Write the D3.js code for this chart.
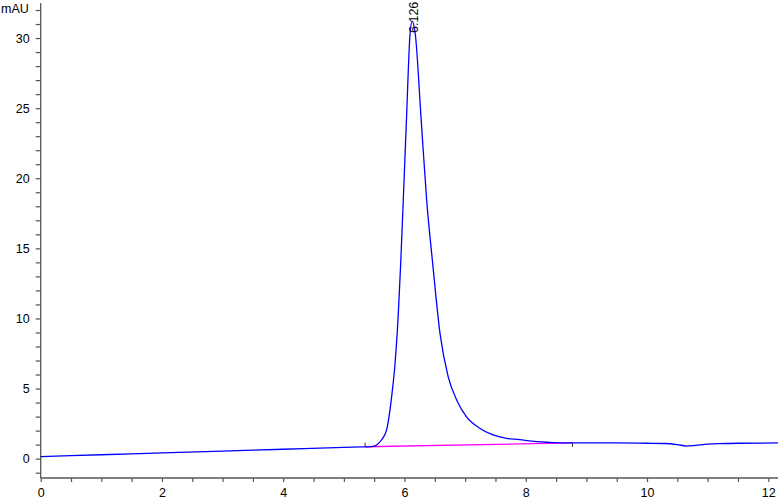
<!DOCTYPE html>
<html><head><meta charset="utf-8">
<script src="https://cdn.jsdelivr.net/npm/d3@7"></script>
<style>
html,body{margin:0;padding:0;background:#fff;}
svg{display:block;font-family:"Liberation Sans",Arial,sans-serif;}
</style></head>
<body>
<svg id="c" width="778" height="499"></svg>
<script>
const time = [0, 1, 2, 3, 4, 5, 5.3, 5.46, 5.54, 5.62, 5.705, 5.755, 5.79, 5.84, 5.895, 5.935, 5.98, 6.035, 6.09, 6.126, 6.18, 6.27, 6.365, 6.47, 6.585, 6.72, 6.86, 7.02, 7.24, 7.46, 7.68, 7.90, 8.1, 8.45, 8.8, 9.5, 10.0, 10.3, 10.5, 10.65, 10.8, 11.0, 11.2, 11.5, 12.16];
const mAU = [0.15, 0.28, 0.41, 0.54, 0.67, 0.8, 0.84, 0.86, 0.98, 1.33, 2.05, 3.3, 4.5, 6.57, 10.1, 13.7, 18.47, 24.5, 30.2, 31.2, 30.2, 24.5, 18.47, 13.7, 8.95, 5.85, 4.19, 3.0, 2.17, 1.69, 1.45, 1.36, 1.25, 1.15, 1.12, 1.12, 1.1, 1.08, 1.0, 0.9, 0.95, 1.03, 1.07, 1.1, 1.12];
const baselineT = [5.35, 8.77];
const baselineY = [0.85, 1.12];
const peakLabels = ["6.126"];
const peakT = [6.126];
const yTicks = d3.range(-1, 33, 1);
const xTicks = d3.range(0, 12.01, 0.5);

const svg = d3.select("#c");
const x = d3.scaleLinear().domain([0, 12.16]).range([40.7, 778]);
const y = d3.scaleLinear().domain([-1.38, 32.5]).range([478, 3]);

// axes
const yAxis = d3.axisLeft(y).tickValues(yTicks).tickSize(5).tickPadding(6)
  .tickFormat(d => d % 5 === 0 ? d : "");
const gy = svg.append("g").attr("transform", `translate(${x(0)},0)`).call(yAxis);
const xAxis = d3.axisBottom(x).tickValues(xTicks).tickSize(4).tickPadding(6)
  .tickFormat(d => (Number.isInteger(d) && d % 2 === 0) ? d : "");
const gx = svg.append("g").attr("transform", `translate(0,${y(-1.38)})`).call(xAxis);
[gx, gy].forEach(g => {
  g.select(".domain").attr("stroke", "#555").attr("stroke-width", 1.3);
  g.selectAll(".tick line").attr("stroke", "#555").attr("stroke-width", 1.2);
  g.selectAll(".tick text").attr("fill", "#000").style("font-size", "12.5px")
    .style("font-family", '"Liberation Sans",Arial,sans-serif');
});
gx.select(".domain").attr("d", `M${x(0)},0H778`);
gy.select(".domain").attr("d", `M0,${y(-1.38)}V3`);

svg.append("text").attr("x", 1).attr("y", 13).text("mAU")
  .style("font-size", "12.5px").attr("fill", "#000");

// baseline (magenta)
svg.append("line")
  .attr("x1", x(baselineT[0])).attr("y1", y(baselineY[0]))
  .attr("x2", x(baselineT[1])).attr("y2", y(baselineY[1]))
  .attr("stroke", "#ff00ff").attr("stroke-width", 1.3);

// signal
const line = d3.line().x((d, i) => x(time[i])).y((d, i) => y(mAU[i])).curve(d3.curveMonotoneX);
svg.append("path").datum(mAU).attr("d", line)
  .attr("fill", "none").attr("stroke", "#0000ff").attr("stroke-width", 1.3);

// baseline markers
svg.append("line").attr("x1", x(baselineT[0])).attr("x2", x(baselineT[0]))
  .attr("y1", y(baselineY[0])).attr("y2", y(baselineY[0]) - 4).attr("stroke", "#333").attr("stroke-width", 1);
svg.append("line").attr("x1", x(baselineT[1])).attr("x2", x(baselineT[1]))
  .attr("y1", y(baselineY[1])).attr("y2", y(baselineY[1]) + 4).attr("stroke", "#333").attr("stroke-width", 1);

// peak label
peakLabels.forEach((lab, i) => {
  const px = x(peakT[i]) + 5.5;
  const py = 33;
  svg.append("text").attr("transform", `translate(${px},${py}) rotate(-90)`)
    .text(lab).style("font-size", "12.5px").attr("fill", "#000");
});
</script>
</body></html>
